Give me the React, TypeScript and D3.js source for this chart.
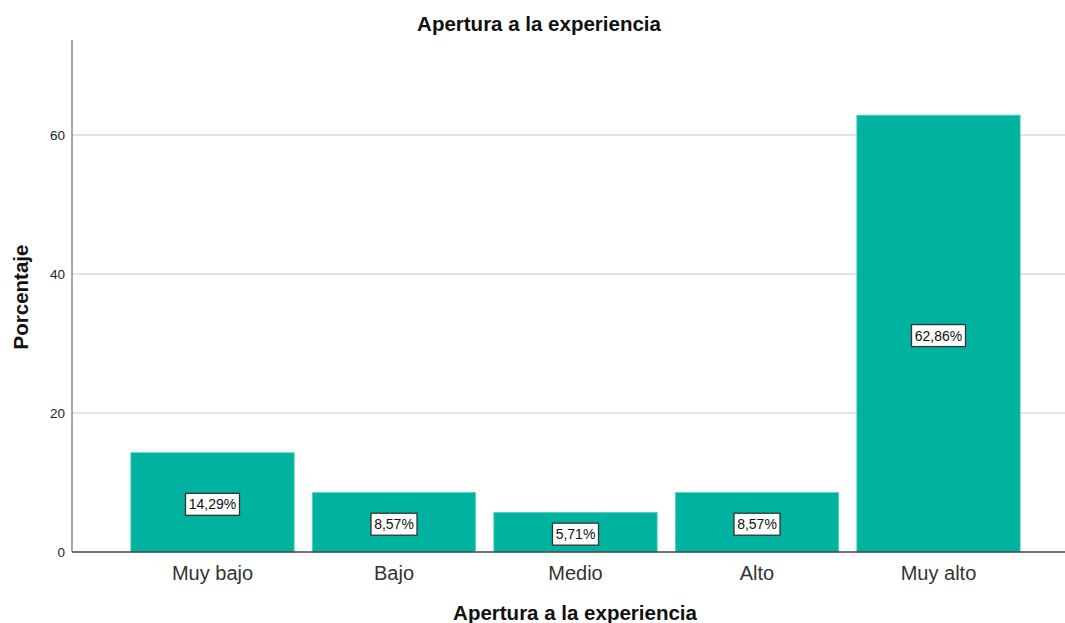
import React from "react";
import * as d3 from "d3";

const categories = ["Muy bajo", "Bajo", "Medio", "Alto", "Muy alto"];
const percentages = [14.29, 8.57, 5.71, 8.57, 62.86];
const yTicks = [0, 20, 40, 60];
const chartTitle = "Apertura a la experiencia";
const xTitle = "Apertura a la experiencia";
const yTitle = "Porcentaje";

export default function App() {
  const W = 1065, H = 623;
  const left = 72, right = 1065, top = 40, bottom = 552;
  const y = d3.scaleLinear().domain([0, 73.67]).range([bottom, top]);
  const x = d3.scaleBand<string>().domain(categories).range([121.75, 1029.25]).paddingInner(0.1).paddingOuter(0.05);
  const font = "'Liberation Sans', Arial, sans-serif";
  const fmt = (v: number) => v.toFixed(2).replace(".", ",") + "%";
  return (
    <svg width={W} height={H} style={{ position: "absolute", left: 0, top: 0, background: "#fff" }} fontFamily={font}>
      <text x={539} y={31} textAnchor="middle" fontSize={20.5} fontWeight="bold" fill="#111">{chartTitle}</text>
      {yTicks.filter(t => t > 0).map(t => (
        <line key={t} x1={left} x2={right} y1={y(t)} y2={y(t)} stroke="#c8c8c8" strokeWidth={1.2} />
      ))}
      {yTicks.map(t => (
        <text key={"t" + t} x={left - 7} y={y(t) + 5} textAnchor="end" fontSize={13.5} fill="#222">{t}</text>
      ))}
      {categories.map((c, i) => (
        <rect key={c} x={x(c)} y={y(percentages[i])} width={x.bandwidth()} height={y(0) - y(percentages[i])} fill="#00b2a0" stroke="#5fd3c6" strokeWidth={0.8} />
      ))}
      <line x1={left} x2={left} y1={top} y2={bottom} stroke="#888" strokeWidth={1.5} />
      <line x1={left} x2={right} y1={bottom} y2={bottom} stroke="#444" strokeWidth={1.5} />
      {categories.map((c, i) => {
        const cx = (x(c) as number) + x.bandwidth() / 2;
        const cy = y(percentages[i] / 2) + 2;
        const label = fmt(percentages[i]);
        const bw = label.length * 8 + 6;
        return (
          <g key={"l" + c}>
            <rect x={cx - bw / 2} y={cy - 11} width={bw} height={22} fill="#fff" stroke="#333" strokeWidth={1.3} />
            <text x={cx} y={cy + 5} textAnchor="middle" fontSize={14} fill="#111">{label}</text>
          </g>
        );
      })}
      {categories.map(c => (
        <text key={"c" + c} x={(x(c) as number) + x.bandwidth() / 2} y={580} textAnchor="middle" fontSize={20} fill="#333">{c}</text>
      ))}
      <text x={575} y={620} textAnchor="middle" fontSize={20.5} fontWeight="bold" fill="#111">{xTitle}</text>
      <text transform={`translate(28,297) rotate(-90)`} textAnchor="middle" fontSize={20.5} fontWeight="bold" fill="#111">{yTitle}</text>
    </svg>
  );
}
